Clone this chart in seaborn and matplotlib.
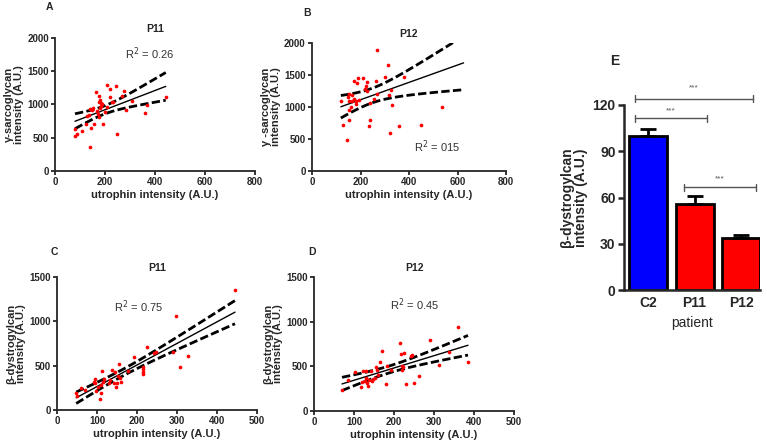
import numpy as np
import pandas as pd
import seaborn as sns
import matplotlib.pyplot as plt

# ---- data ----
# Panel A: P11, utrophin vs gamma-sarcoglycan
a_utr = [80, 81, 88, 109, 125, 129, 135, 140, 143, 140, 147, 153, 157, 163, 167, 171, 175, 175,
         176, 180, 184, 187, 184, 191, 207, 209, 220, 220, 227, 233, 243, 247, 267, 276, 284,
         309, 361, 367, 443, 180, 200]
a_sgc = [635, 520, 550, 605, 710, 825, 845, 925, 645, 360, 920, 950, 710, 1185, 905, 860, 810, 1045,
         1125, 1075, 1030, 1010, 970, 705, 960, 1300, 1235, 1110, 1035, 1045, 1280, 560, 1135, 1210, 920,
         1060, 875, 995, 1120, 950, 880]

# Panel B: P12, utrophin vs gamma-sarcoglycan
# (last point lies above the 2000 axis limit, so it is clipped like in the original)
b_utr = [119, 128, 145, 149, 152, 152, 152, 153, 160, 163, 166, 172, 174, 181, 183, 186, 190, 192,
         212, 218, 222, 226, 228, 235, 239, 239, 257, 265, 266, 268, 312, 316, 320, 327, 330, 360,
         379, 451, 538, 301, 625]
b_sgc = [1090, 720, 485, 1155, 1205, 1090, 960, 800, 1000, 1090, 1190, 1130, 1405, 1100, 1050, 1375,
         1455, 1115, 1460, 1285, 1330, 1385, 1250, 710, 800, 1060, 1130, 1400, 1210, 1890, 1650, 1180,
         600, 1270, 1025, 700, 1470, 720, 995, 1470, 2760]

# Panel C: P11, utrophin vs beta-dystroglycan
c_utr = [48, 50, 61, 71, 92, 96, 94, 97, 102, 107, 110, 111, 112, 115, 118, 129, 133, 137, 143, 146,
         147, 151, 152, 155, 157, 160, 177, 193, 214, 214, 216, 214, 226, 243, 248, 289, 298, 308,
         328, 445]
c_dg = [195, 158, 244, 226, 320, 346, 300, 218, 256, 124, 188, 282, 440, 320, 346, 300, 338, 455, 300,
        425, 263, 300, 383, 515, 357, 320, 444, 594, 432, 459, 406, 489, 707, 647, 658, 658, 1064, 481,
        605, 1350]

# Panel D: P12, utrophin vs beta-dystroglycan
d_utr = [70, 85, 102, 117, 120, 122, 127, 129, 131, 132, 135, 137, 143, 145, 147, 152, 154, 157, 160,
         164, 171, 181, 183, 192, 214, 218, 220, 221, 224, 223, 230, 243, 246, 250, 262, 289, 313,
         337, 361, 385]
d_dg = [240, 345, 438, 270, 326, 449, 337, 446, 375, 315, 277, 352, 449, 333, 356, 375, 494, 457, 400,
        550, 670, 300, 502, 457, 757, 637, 502, 457, 644, 494, 300, 618, 625, 315, 397, 794, 513, 655,
        936, 547]

# Panel E: beta-dystroglycan per patient
patients = ['C2', 'P11', 'P12']
bdg_mean = [100, 56, 33.5]
bdg_sem = [4.4, 4.8, 2.2]
bar_colors = ['#0000FF', '#FF0000', '#FF0000']

scatter_panels = [
    dict(letter='A', letter_px=(49, 7), title='P11', x=a_utr, y=a_sgc, r2='R$^2$ = 0.26',
         r2_pos=(380, 1770), xmax=800, xstep=200, ymax=2000,
         ylabel='γ-sarcoglycan\nintensity (A.U.)', box=(55, 171, 200, 133)),
    dict(letter='B', letter_px=(307, 13), title='P12', x=b_utr, y=b_sgc, r2='R$^2$ = 015',
         r2_pos=(514, 375), xmax=800, xstep=200, ymax=2000,
         ylabel='γ -sarcoglycan\nintensity (A.U.)', box=(312, 171, 194, 128)),
    dict(letter='C', letter_px=(54, 252), title='P11', x=c_utr, y=c_dg, r2='R$^2$ = 0.75',
         r2_pos=(204, 1162), xmax=500, xstep=100, ymax=1500,
         ylabel='β-dystrogylcan\nintensity (A.U.)', box=(57, 410, 200, 133)),
    dict(letter='D', letter_px=(312, 252), title='P12', x=d_utr, y=d_dg, r2='R$^2$ = 0.45',
         r2_pos=(252, 1189), xmax=500, xstep=100, ymax=1500,
         ylabel='β-dystrogylcan\nintensity (A.U.)', box=(314, 411, 200, 134)),
]

W, H = 767, 444
sns.set_style('ticks')
plt.rcParams['font.family'] = ['Liberation Sans', 'DejaVu Sans']
plt.rcParams['axes.linewidth'] = 1.3
plt.rcParams['xtick.major.width'] = 1.3
plt.rcParams['ytick.major.width'] = 1.3
plt.rcParams['xtick.major.size'] = 3
plt.rcParams['ytick.major.size'] = 3

fig = plt.figure(figsize=(W / 100, H / 100), dpi=100)


def px_axes(left, bottom_px, width, height):
    # bottom_px is the pixel row of the x axis, measured from the top
    return fig.add_axes([left / W, (H - bottom_px) / H, width / W, height / H])


def fit_lines(x, y):
    # linear fit with 95% confidence band of the line, over the data range
    x = np.asarray(x, float)
    y = np.asarray(y, float)
    n = len(x)
    slope, icpt = np.polyfit(x, y, 1)
    resid = y - (slope * x + icpt)
    s = np.sqrt(np.sum(resid ** 2) / (n - 2))
    sxx = np.sum((x - x.mean()) ** 2)
    xs = np.linspace(x.min(), x.max(), 100)
    yh = slope * xs + icpt
    band = 2.02 * s * np.sqrt(1 / n + (xs - x.mean()) ** 2 / sxx)
    return pd.DataFrame({'x': xs, 'fit': yh, 'lo': yh - band, 'hi': yh + band})


for p in scatter_panels:
    ax = px_axes(*p['box'])
    fl = fit_lines(p['x'], p['y'])
    sns.lineplot(data=fl, x='x', y='fit', color='black', lw=1.0, ax=ax)
    for col in ['lo', 'hi']:
        sns.lineplot(data=fl, x='x', y=col, color='black', lw=2.0, ax=ax)
        ax.lines[-1].set_dashes((3, 1.2))
    sns.scatterplot(x=p['x'], y=p['y'], color='#FF0000', s=7, linewidth=0, ax=ax, zorder=3)
    ax.set_xlim(0, p['xmax'])
    ax.set_ylim(0, p['ymax'])
    ax.set_xticks(np.arange(0, p['xmax'] + 1, p['xstep']))
    ax.set_yticks(np.arange(0, p['ymax'] + 1, 500))
    sns.despine(ax=ax)
    for lab in ax.get_xticklabels() + ax.get_yticklabels():
        lab.set_fontweight('bold')
        lab.set_fontsize(7)
    ax.tick_params(pad=1.5)
    ax.set_xlabel('utrophin intensity (A.U.)', fontsize=8, fontweight='bold', labelpad=2)
    ax.set_ylabel(p['ylabel'], fontsize=8, fontweight='bold', labelpad=2, linespacing=1.0)
    ax.set_title(p['title'], fontsize=7.5, fontweight='bold', pad=4)
    ax.text(*p['r2_pos'], p['r2'], fontsize=8, color='#333333', ha='center', va='center')
    lx, ly = p['letter_px']
    fig.text(lx / W, 1 - ly / H, p['letter'], fontsize=7.5, fontweight='bold',
             ha='center', va='center')

# ---- panel E ----
ax = px_axes(624, 290, 136, 185)
bars = pd.DataFrame({'patient': patients, 'mean': bdg_mean})
sns.barplot(data=bars, x='patient', y='mean', hue='patient', palette=bar_colors, legend=False,
            saturation=1, width=0.82, edgecolor='black', linewidth=2, ax=ax)
ax.errorbar(range(len(patients)), bdg_mean, yerr=[np.zeros(3), bdg_sem], fmt='none',
            ecolor='black', elinewidth=2, capsize=6, capthick=2, zorder=1)
ax.set_xlim(-0.52, 2.41)
ax.set_ylim(0, 120)
ax.set_yticks([0, 30, 60, 90, 120])
sns.despine(ax=ax)
ax.spines['left'].set_linewidth(1.8)
ax.spines['bottom'].set_linewidth(1.8)
ax.tick_params(axis='x', length=0, pad=4)
ax.tick_params(axis='y', length=4, width=1.8, pad=2)
for lab in ax.get_xticklabels() + ax.get_yticklabels():
    lab.set_fontweight('bold')
    lab.set_fontsize(10)
ax.set_xlabel('patient', fontsize=10, labelpad=5)
ax.set_ylabel('β-dystrogylcan\nintensity (A.U.)', fontsize=10, fontweight='bold', labelpad=3,
              linespacing=1.0)

brackets = [(-0.29, 2.25, 124, 131), (-0.29, 1.26, 111.4, 116), (0.78, 2.32, 66.6, 72)]
for x0, x1, yb, ys in brackets:
    ax.plot([x0, x1], [yb, yb], color='#555555', lw=1.0, clip_on=False)
    for xe in (x0, x1):
        ax.plot([xe, xe], [yb - 2.2, yb + 2.2], color='#555555', lw=1.0, clip_on=False)
    ax.text((x0 + x1) / 2, ys, '***', fontsize=6, color='#555555', ha='center', va='center')
fig.text(615 / W, 1 - 61 / H, 'E', fontsize=10, fontweight='bold', ha='center', va='center')

fig.savefig('out.png', dpi=100)
